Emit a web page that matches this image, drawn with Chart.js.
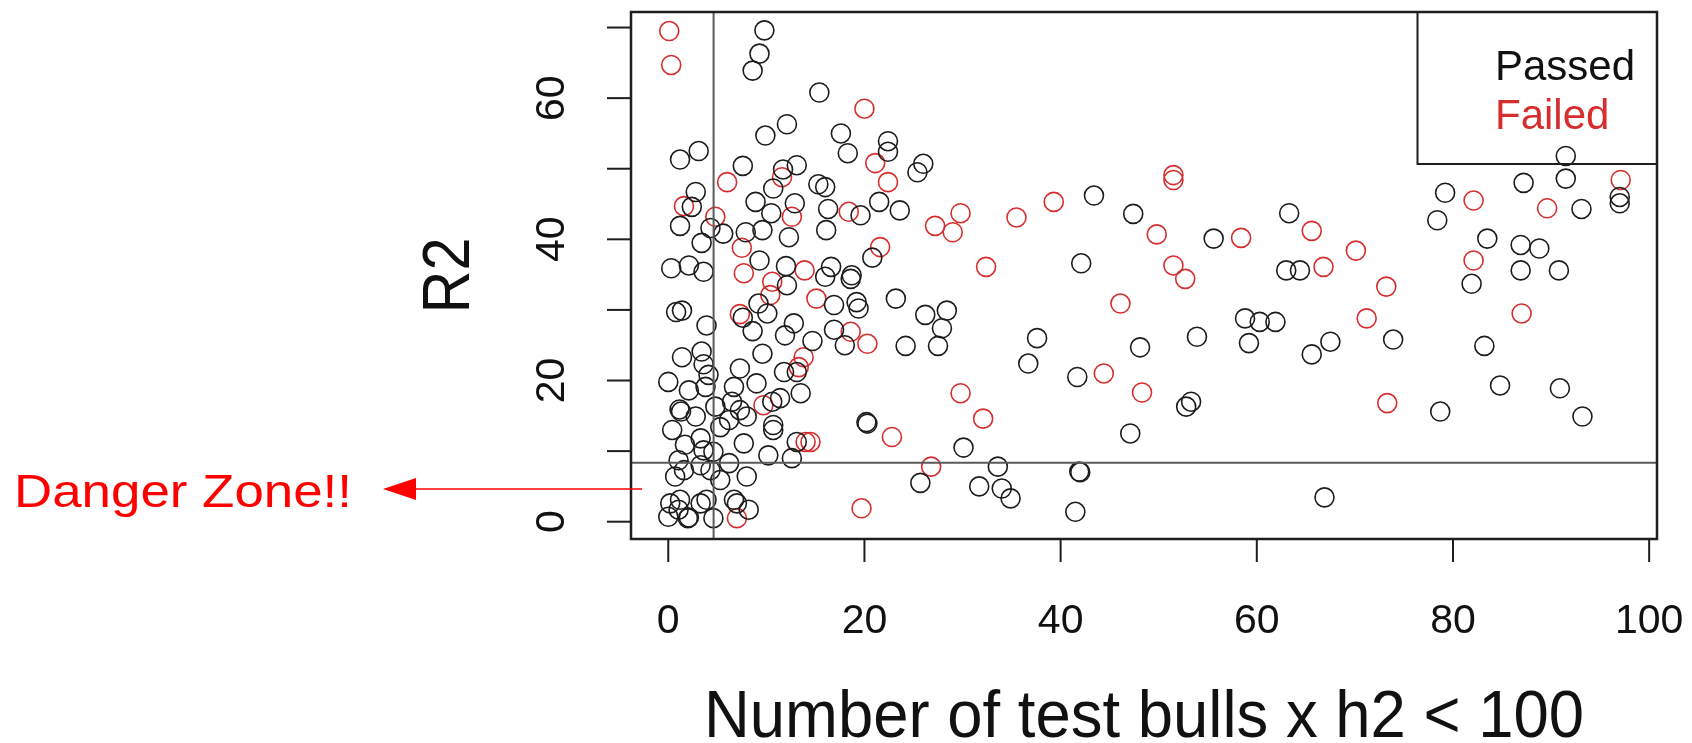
<!DOCTYPE html>
<html>
<head>
<meta charset="utf-8">
<script src="https://cdn.jsdelivr.net/npm/chart.js@4/dist/chart.umd.min.js"></script>
<style>
  html, body { margin: 0; padding: 0; background: #fff; }
  #wrap { width: 1692px; height: 743px; position: relative; }
</style>
</head>
<body>
<div id="wrap"><canvas id="scatter"></canvas></div>
<script>
// R2 vs number of test bulls x h2, passed / failed scatter

var passedX = [9.8, 9.3, 8.6, 15.4, 12.1, 9.9, 17.6, 18.3, 22.4, 22.4, 1.2, 3.1, 7.6, 13.1, 11.7, 10.7, 15.3, 16.0, 8.9, 12.9,
  10.5, 16.3, 19.6, 21.5, 23.6, 2.8, 2.4, 1.2, 4.3, 5.6, 7.9, 9.6, 12.3, 16.1, 3.4, 20.8, 9.3, 0.3, 2.1, 3.6,
  16.6, 18.7, 12.0, 12.1, 16.0, 18.6, 16.9, 19.2, 19.4, 23.2, 9.2, 10.1, 7.6, 0.8, 1.4, 3.9, 12.8, 11.9, 8.6, 14.7,
  16.9, 18.0, 3.4, 3.6, 4.1, 1.4, 9.6, 11.8, 13.1, 7.3, 0.0, 2.1, 3.8, 6.7, 9.0, 13.5, 11.4, 1.15, 1.3, 2.8,
  4.8, 6.5, 7.3, 8.0, 6.2, 5.3, 10.6, 10.7, 10.7, 20.2, 20.3, 13.1, 10.2, 12.6, 7.7, 4.6, 0.4, 1.7, 3.3, 1.05,
  1.6, 0.7, 3.3, 4.3, 5.3, 6.2, 8.0, 3.6, 0.2, 1.2, 1.05, 2.0, 2.1, 3.3, 3.9, 4.6, 6.7, 8.2, 7.0, 0.0,
  26.0, 25.4, 43.4, 47.4, 42.1, 26.2, 28.4, 27.9, 24.2, 27.5, 37.6, 36.7, 48.1, 41.7, 53.3, 52.8, 30.1, 47.1, 25.7, 33.6,
  31.7, 34.0, 34.9, 41.9, 42.0, 41.5, 63.3, 55.6, 63.0, 64.4, 79.2, 78.4, 81.9, 58.8, 60.3, 61.9, 59.2, 53.9, 73.9, 65.6,
  67.5, 78.7, 66.9, 91.5, 91.5, 87.2, 97.0, 97.0, 93.1, 83.5, 86.9, 88.8, 86.9, 90.8, 83.2, 84.8, 90.9, 93.2];
var passedY = [69.6, 66.3, 63.9, 60.8, 56.3, 54.7, 55.0, 52.2, 53.9, 52.4, 51.3, 52.5, 50.4, 50.5, 49.9, 47.2, 47.8, 47.4, 45.3, 45.1,
  43.7, 44.3, 43.4, 45.3, 44.1, 46.7, 44.6, 41.9, 41.6, 40.8, 41.0, 41.3, 40.3, 41.3, 39.5, 37.4, 37.0, 35.9, 36.3, 35.4,
  36.1, 34.9, 36.2, 33.5, 34.7, 34.4, 30.7, 31.1, 30.2, 31.6, 30.9, 29.5, 28.9, 29.7, 29.9, 27.8, 28.1, 26.4, 27.0, 25.6,
  27.2, 25.0, 24.1, 22.3, 20.8, 23.3, 23.8, 21.2, 21.2, 21.7, 19.8, 18.6, 19.1, 19.1, 19.6, 18.2, 17.5, 15.9, 15.6, 14.9,
  16.3, 17.0, 15.8, 14.9, 14.4, 13.4, 17.0, 13.7, 13.0, 14.1, 13.9, 11.3, 9.4, 9.0, 11.1, 9.9, 13.0, 10.9, 11.8, 8.7,
  7.3, 6.4, 8.0, 7.3, 5.9, 8.3, 6.4, 10.1, 2.6, 3.1, 1.7, 0.5, 0.6, 2.6, 3.1, 0.5, 3.1, 1.7, 2.6, 0.7,
  50.7, 49.5, 46.2, 43.6, 36.6, 29.3, 29.9, 27.4, 24.9, 24.9, 26.0, 22.4, 24.7, 20.5, 17.0, 16.3, 10.5, 12.5, 5.5, 7.8,
  5.0, 4.7, 3.3, 7.1, 7.0, 1.4, 43.7, 40.1, 35.6, 35.6, 46.6, 42.7, 33.7, 28.8, 28.3, 28.3, 25.3, 26.2, 25.8, 23.7,
  25.5, 15.6, 3.45, 51.8, 48.6, 48.0, 46.0, 45.1, 44.3, 40.1, 39.2, 38.7, 35.6, 35.6, 24.9, 19.3, 18.9, 14.9];

var failedX = [0.1, 0.3, 20.0, 21.1, 11.6, 6.0, 22.4, 12.6, 18.4, 1.6, 4.8, 7.5, 21.6, 7.7, 13.9, 10.6, 10.4, 15.1, 7.3, 18.6,
  20.3, 13.8, 13.3, 9.7, 22.8, 14.0, 14.5, 7.0, 19.7, 27.2, 29.8, 29.0, 35.5, 39.3, 49.8, 51.5, 51.5, 32.4, 51.5, 52.7,
  46.1, 44.4, 48.3, 29.8, 32.1, 26.8, 65.6, 58.4, 70.1, 66.8, 82.1, 82.1, 71.2, 73.2, 73.3, 97.1, 89.6, 87.0];
var failedY = [69.5, 64.7, 58.5, 50.8, 48.8, 48.1, 48.1, 43.2, 43.9, 44.7, 43.2, 38.8, 38.9, 35.2, 35.6, 34.0, 32.1, 31.6, 29.4, 26.9,
  25.2, 23.3, 21.9, 16.5, 12.0, 11.3, 11.3, 0.5, 1.9, 41.9, 43.7, 41.0, 43.1, 45.3, 40.7, 49.1, 48.4, 36.1, 36.3, 34.4,
  30.9, 21.0, 18.3, 18.2, 14.6, 7.8, 41.2, 40.2, 38.4, 36.1, 45.5, 37.0, 28.8, 33.3, 16.8, 48.4, 44.4, 29.5];

var xTicks = [0, 20, 40, 60, 80, 100];
var yTicks = [0, 10, 20, 30, 40, 50, 60, 70];
var yTickLabels = [0, 20, 40, 60];

// cut-off lines
var cutX = 4.62;
var cutY = 8.35;

var FONT = '"Liberation Sans", Arial, Helvetica, sans-serif';
var RED = 'rgb(214, 46, 46)';

function toPoints(xs, ys) {
  return xs.map(function(x, i) { return { x: x, y: ys[i] }; });
}

// text squeezed (or stretched) to a given width, like the resampled original
function fillTextWidth(ctx, text, x, y, width) {
  var w = ctx.measureText(text).width;
  ctx.save();
  ctx.translate(x, y);
  ctx.scale(width / w, 1);
  ctx.fillText(text, 0, 0);
  ctx.restore();
}

// Draws the R-style frame, axes, cut lines, legend and the annotation
var basePlotPlugin = {
  id: 'basePlot',
  afterDatasetsDraw: function(chart) {
    var ctx = chart.ctx;
    var area = chart.chartArea;
    var xs = chart.scales.x;
    var ys = chart.scales.y;

    ctx.save();

    // cut-off lines
    ctx.strokeStyle = '#5a5a5a';
    ctx.lineWidth = 2;
    ctx.beginPath();
    var vx = xs.getPixelForValue(cutX);
    ctx.moveTo(vx, area.top);
    ctx.lineTo(vx, area.bottom);
    var hy = ys.getPixelForValue(cutY);
    ctx.moveTo(area.left, hy);
    ctx.lineTo(area.right, hy);
    ctx.stroke();

    // box
    ctx.strokeStyle = '#1e1e1e';
    ctx.lineWidth = 2.5;
    ctx.strokeRect(area.left, area.top, area.right - area.left, area.bottom - area.top);

    // x axis
    ctx.lineWidth = 2;
    ctx.fillStyle = '#111';
    ctx.font = '41px ' + FONT;
    ctx.textAlign = 'center';
    ctx.textBaseline = 'middle';
    xTicks.forEach(function(v) {
      var px = xs.getPixelForValue(v);
      ctx.beginPath();
      ctx.moveTo(px, area.bottom);
      ctx.lineTo(px, area.bottom + 23);
      ctx.stroke();
      ctx.fillText(String(v), px, area.bottom + 83);
    });

    // y axis
    yTicks.forEach(function(v) {
      var py = ys.getPixelForValue(v);
      ctx.beginPath();
      ctx.moveTo(area.left - 24, py);
      ctx.lineTo(area.left, py);
      ctx.stroke();
    });
    yTickLabels.forEach(function(v) {
      var py = ys.getPixelForValue(v);
      ctx.save();
      ctx.translate(area.left - 78, py);
      ctx.rotate(-Math.PI / 2);
      ctx.fillText(String(v), 0, 0);
      ctx.restore();
    });

    // axis titles
    ctx.font = '66px ' + FONT;
    ctx.textBaseline = 'alphabetic';
    ctx.textAlign = 'left';
    var title = 'Number of test bulls x h2 < 100';
    fillTextWidth(ctx, title, (area.left + area.right) / 2 - 440, 737, 880);
    ctx.save();
    ctx.translate(469, (area.top + area.bottom) / 2);
    ctx.rotate(-Math.PI / 2);
    fillTextWidth(ctx, 'R2', -38, 0, 76);
    ctx.restore();

    // legend
    ctx.strokeStyle = '#1e1e1e';
    ctx.lineWidth = 2;
    ctx.strokeRect(1417.5, area.top, area.right - 1417.5, 164 - area.top);
    ctx.font = '42px ' + FONT;
    ctx.fillStyle = '#111';
    ctx.fillText('Passed', 1495, 80);
    ctx.fillStyle = RED;
    ctx.fillText('Failed', 1495, 129);

    // danger zone annotation
    var ay = 489;
    ctx.strokeStyle = '#ff0000';
    ctx.fillStyle = '#ff0000';
    ctx.lineWidth = 1.5;
    ctx.beginPath();
    ctx.moveTo(642, ay);
    ctx.lineTo(410, ay);
    ctx.stroke();
    ctx.beginPath();
    ctx.moveTo(383, ay);
    ctx.lineTo(416, ay - 11);
    ctx.lineTo(416, ay + 11);
    ctx.closePath();
    ctx.fill();

    ctx.font = '47px ' + FONT;
    fillTextWidth(ctx, 'Danger Zone!!', 14, 507, 338);

    ctx.restore();
  }
};

document.addEventListener('DOMContentLoaded', function() {
  var ctx = document.getElementById('scatter').getContext('2d');

  new Chart(ctx, {
    type: 'scatter',
    data: {
      datasets: [
        {
          label: 'Passed',
          data: toPoints(passedX, passedY),
          borderColor: '#1c1c1c',
          backgroundColor: 'rgba(0,0,0,0)',
          borderWidth: 1.6,
          pointRadius: 9.5,
          pointHoverRadius: 9.5
        },
        {
          label: 'Failed',
          data: toPoints(failedX, failedY),
          borderColor: RED,
          backgroundColor: 'rgba(0,0,0,0)',
          borderWidth: 1.6,
          pointRadius: 9.5,
          pointHoverRadius: 9.5
        }
      ]
    },
    options: {
      responsive: true,
      maintainAspectRatio: false,
      animation: false,
      devicePixelRatio: 1,
      layout: {
        padding: { left: 631, right: 35, top: 12, bottom: 204 }
      },
      plugins: {
        legend: { display: false },
        tooltip: { enabled: false }
      },
      scales: {
        x: { type: 'linear', min: -3.8, max: 100.8, display: false },
        y: { type: 'linear', min: -2.45, max: 72.2, display: false }
      }
    },
    plugins: [basePlotPlugin]
  });
});
</script>
</body>
</html>
